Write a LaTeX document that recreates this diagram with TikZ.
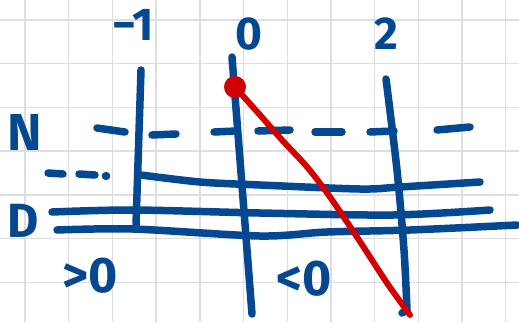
\documentclass[tikz,border=0pt]{standalone}
\usepackage{fontspec}
\setmainfont{Fira Sans}
\usepackage{xcolor}
\definecolor{penblue}{RGB}{4,72,146}
\definecolor{penred}{RGB}{210,0,0}
\definecolor{gridgray}{RGB}{222,222,222}

\begin{document}
\begin{tikzpicture}[
  x=1pt, y=-1pt,
  gridline/.style={draw=gridgray,line width=1.4pt},
  ink/.style={draw=penblue,line width=7.5pt,line cap=round,line join=round},
  redink/.style={draw=penred,line width=6pt,line cap=round,line join=round},
  lbl/.style={text=penblue,inner sep=0pt,font=\fontsize{46}{46}\selectfont\bfseries},
]
\useasboundingbox[fill=white] (0,0) rectangle (519,322);
% squared paper
\foreach \gx in {0,...,11} \draw[gridline] ({25+43.7*\gx},0) -- ({25+43.7*\gx},322);
\foreach \gy in {0,...,6} \draw[gridline] (0,{20+43.7*\gy}) -- (519,{20+43.7*\gy});

% labels
\node[lbl] (mone) at (133,25) {−1};
\node[lbl] (zero) at (249,34) {0};
\node[lbl] (two) at (386,34) {2};
\node[lbl,font=\fontsize{52}{52}\selectfont\bfseries] (nlbl) at (25,132) {N};
\node[lbl,font=\fontsize{48}{48}\selectfont\bfseries] (dlbl) at (23,221) {D};
\node[lbl,font=\fontsize{50}{50}\selectfont\bfseries] (pos) at (90,276) {>0};
\node[lbl,font=\fontsize{50}{50}\selectfont\bfseries] (neg) at (304,279) {<0};

% vertical strokes
\draw[ink] (141,70) -- (136,225);
\draw[ink] (232,57) -- (252,314);
\draw[ink] plot[smooth] coordinates {(386,79) (397,170) (404,250) (407,310)} -- (402,313);

% dashed N line
\foreach \xa/\ya/\xb/\yb in {97/128/125/132, 152/135/176/134, 214/132/236/131,
  258/131/290/130, 315/132/342/132, 370/132/394/131, 437/130/470/127}
  \draw[ink] (\xa,\ya) -- (\xb,\yb);
% short dashes on the left
\draw[ink] (48,173) -- (63,174);
\draw[ink] (79,174) -- (95,175);
\draw[ink] (105.5,176) -- (106.5,176);

% horizontal strokes
\draw[ink] plot[smooth] coordinates {(141,175) (200,182) (260,185) (360,189) (400,187) (480,182)};
\draw[ink] plot[smooth] coordinates {(52,212) (133,210) (260,213) (393,215) (490,210)};
\draw[ink] plot[smooth] coordinates {(57,230) (133,229) (260,236) (327,232) (410,230) (517,225)};

% red curve
\draw[redink] plot[smooth] coordinates {(235,87) (260,115) (282,140) (308,168) (330,197) (357,237) (387,283) (410,315)};
\fill[penred] (235,87) circle[radius=11];
\end{tikzpicture}
\end{document}
